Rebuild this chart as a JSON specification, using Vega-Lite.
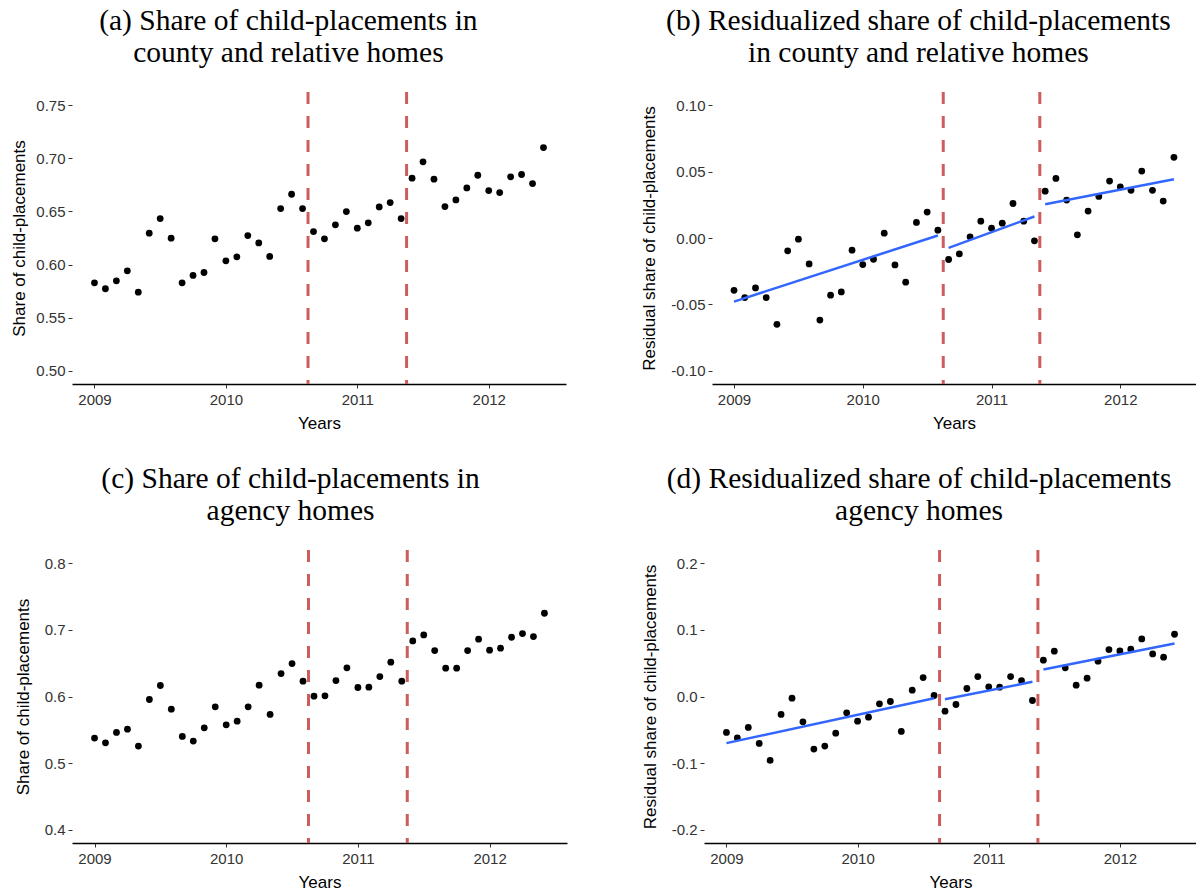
{
  "$schema": "https://vega.github.io/schema/vega-lite/v6.json",
  "padding": {"left": 10, "top": 6, "right": 0, "bottom": 0},
  "background": "white",
  "datasets": {
    "pts": [
      {"t": 2009.0000, "a": 0.5828, "b": -0.0394, "c": 0.5375, "d": -0.054},
      {"t": 2009.0833, "a": 0.5772, "b": -0.0449, "c": 0.5305, "d": -0.062},
      {"t": 2009.1667, "a": 0.5847, "b": -0.0376, "c": 0.546, "d": -0.0465},
      {"t": 2009.2500, "a": 0.5941, "b": -0.0449, "c": 0.551, "d": -0.0705},
      {"t": 2009.3333, "a": 0.574, "b": -0.065, "c": 0.5255, "d": -0.096},
      {"t": 2009.4167, "a": 0.6295, "b": -0.0097, "c": 0.5955, "d": -0.027},
      {"t": 2009.5000, "a": 0.6433, "b": -0.0009, "c": 0.6165, "d": -0.0025},
      {"t": 2009.5833, "a": 0.6248, "b": -0.0195, "c": 0.581, "d": -0.038},
      {"t": 2009.6667, "a": 0.5828, "b": -0.0618, "c": 0.54, "d": -0.079},
      {"t": 2009.7500, "a": 0.5897, "b": -0.0431, "c": 0.533, "d": -0.0745},
      {"t": 2009.8333, "a": 0.5925, "b": -0.0406, "c": 0.553, "d": -0.055},
      {"t": 2009.9167, "a": 0.6242, "b": -0.0092, "c": 0.5845, "d": -0.0245},
      {"t": 2010.0000, "a": 0.6035, "b": -0.020, "c": 0.5575, "d": -0.037},
      {"t": 2010.0833, "a": 0.6073, "b": -0.016, "c": 0.563, "d": -0.031},
      {"t": 2010.1667, "a": 0.6273, "b": 0.0036, "c": 0.5845, "d": -0.011},
      {"t": 2010.2500, "a": 0.6204, "b": -0.0203, "c": 0.617, "d": -0.0075},
      {"t": 2010.3333, "a": 0.6076, "b": -0.0333, "c": 0.573, "d": -0.0525},
      {"t": 2010.4167, "a": 0.6527, "b": 0.0117, "c": 0.6345, "d": 0.0095},
      {"t": 2010.5000, "a": 0.6662, "b": 0.0195, "c": 0.6495, "d": 0.0285},
      {"t": 2010.5833, "a": 0.6527, "b": 0.0059, "c": 0.623, "d": 0.0015},
      {"t": 2010.6667, "a": 0.6311, "b": -0.0162, "c": 0.6005, "d": -0.022},
      {"t": 2010.7500, "a": 0.6242, "b": -0.0119, "c": 0.601, "d": -0.012},
      {"t": 2010.8333, "a": 0.6374, "b": 0.0009, "c": 0.624, "d": 0.012},
      {"t": 2010.9167, "a": 0.6499, "b": 0.0127, "c": 0.643, "d": 0.03},
      {"t": 2011.0000, "a": 0.6342, "b": 0.0074, "c": 0.6135, "d": 0.0145},
      {"t": 2011.0833, "a": 0.6393, "b": 0.0112, "c": 0.614, "d": 0.014},
      {"t": 2011.1667, "a": 0.6543, "b": 0.026, "c": 0.63, "d": 0.03},
      {"t": 2011.2500, "a": 0.6584, "b": 0.0127, "c": 0.6515, "d": 0.024},
      {"t": 2011.3333, "a": 0.6433, "b": -0.0021, "c": 0.623, "d": -0.006},
      {"t": 2011.4167, "a": 0.6813, "b": 0.0353, "c": 0.6835, "d": 0.0545},
      {"t": 2011.5000, "a": 0.6967, "b": 0.0449, "c": 0.6925, "d": 0.068},
      {"t": 2011.5833, "a": 0.6804, "b": 0.0286, "c": 0.669, "d": 0.043},
      {"t": 2011.6667, "a": 0.6546, "b": 0.0024, "c": 0.6425, "d": 0.017},
      {"t": 2011.7500, "a": 0.6609, "b": 0.0203, "c": 0.6425, "d": 0.0275},
      {"t": 2011.8333, "a": 0.6722, "b": 0.0313, "c": 0.669, "d": 0.053},
      {"t": 2011.9167, "a": 0.6841, "b": 0.0429, "c": 0.686, "d": 0.0705},
      {"t": 2012.0000, "a": 0.6697, "b": 0.0386, "c": 0.6695, "d": 0.0685},
      {"t": 2012.0833, "a": 0.6678, "b": 0.0359, "c": 0.6725, "d": 0.071},
      {"t": 2012.1667, "a": 0.6826, "b": 0.0504, "c": 0.689, "d": 0.0865},
      {"t": 2012.2500, "a": 0.6848, "b": 0.0359, "c": 0.6945, "d": 0.064},
      {"t": 2012.3333, "a": 0.6763, "b": 0.0278, "c": 0.690, "d": 0.059},
      {"t": 2012.4167, "a": 0.7102, "b": 0.0608, "c": 0.725, "d": 0.0935}
    ],
    "fits": [
      {"seg": 1, "t": 2009.0000, "b": -0.0479, "d": -0.070},
      {"seg": 1, "t": 2010.5833, "b": 0.0019, "d": -0.0025},
      {"seg": 2, "t": 2010.6667, "b": -0.0074, "d": -0.004},
      {"seg": 2, "t": 2011.3333, "b": 0.0162, "d": 0.022},
      {"seg": 3, "t": 2011.4167, "b": 0.0255, "d": 0.0405},
      {"seg": 3, "t": 2012.4167, "b": 0.0442, "d": 0.0795}
    ],
    "vlines": [
      {"t": 2010.625},
      {"t": 2011.375}
    ]
  },
  "spacing": 33,
  "vconcat": [
    {
      "spacing": 74,
      "hconcat": [
        {
          "width": 494,
          "height": 292,
          "title": {"text": ["(a) Share of child-placements in", "county and relative homes"]},
          "layer": [
            {
              "data": {"name": "vlines"},
              "mark": {"type": "rule", "color": "#CD5C5C", "strokeWidth": 3, "strokeDash": [12, 12]},
              "encoding": {"x": {"field": "t", "type": "quantitative"}}
            },
            {
              "data": {"name": "pts"},
              "mark": {"type": "circle", "size": 46, "color": "black", "opacity": 1},
              "encoding": {
                "x": {"field": "t", "type": "quantitative", "title": "Years", "scale": {"domain": [2008.829, 2012.588], "nice": false, "zero": false}, "axis": {"values": [2009, 2010, 2011, 2012], "format": "d"}},
                "y": {"field": "a", "type": "quantitative", "title": "Share of child-placements", "scale": {"domain": [0.4875, 0.7625], "nice": false, "zero": false}, "axis": {"values": [0.5, 0.55, 0.6, 0.65, 0.7, 0.75], "format": ".2f", "titlePadding": 7}}
              }
            }
          ]
        },
        {
          "width": 484,
          "height": 292,
          "title": {"text": ["(b) Residualized share of child-placements", "in county and relative homes"]},
          "layer": [
            {
              "data": {"name": "vlines"},
              "mark": {"type": "rule", "color": "#CD5C5C", "strokeWidth": 3, "strokeDash": [12, 12]},
              "encoding": {"x": {"field": "t", "type": "quantitative"}}
            },
            {
              "data": {"name": "pts"},
              "mark": {"type": "circle", "size": 46, "color": "black", "opacity": 1},
              "encoding": {
                "x": {"field": "t", "type": "quantitative", "title": "Years", "scale": {"domain": [2008.829, 2012.588], "nice": false, "zero": false}, "axis": {"values": [2009, 2010, 2011, 2012], "format": "d"}},
                "y": {"field": "b", "type": "quantitative", "title": "Residual share of child-placements", "scale": {"domain": [-0.11, 0.11], "nice": false, "zero": false}, "axis": {"values": [-0.1, -0.05, 0, 0.05, 0.1], "labelExpr": "replace(format(datum.value, '.2f'), '−', '-')"}}
              }
            },
            {
              "data": {"name": "fits"},
              "mark": {"type": "line", "color": "#3366FF", "strokeWidth": 2.5},
              "encoding": {
                "x": {"field": "t", "type": "quantitative"},
                "y": {"field": "b", "type": "quantitative"},
                "detail": {"field": "seg", "type": "nominal"}
              }
            }
          ]
        }
      ]
    },
    {
      "spacing": 74,
      "hconcat": [
        {
          "width": 495,
          "height": 293,
          "title": {"text": ["(c) Share of child-placements in", "agency homes"]},
          "layer": [
            {
              "data": {"name": "vlines"},
              "mark": {"type": "rule", "color": "#CD5C5C", "strokeWidth": 3, "strokeDash": [12, 12]},
              "encoding": {"x": {"field": "t", "type": "quantitative"}}
            },
            {
              "data": {"name": "pts"},
              "mark": {"type": "circle", "size": 46, "color": "black", "opacity": 1},
              "encoding": {
                "x": {"field": "t", "type": "quantitative", "title": "Years", "scale": {"domain": [2008.829, 2012.588], "nice": false, "zero": false}, "axis": {"values": [2009, 2010, 2011, 2012], "format": "d"}},
                "y": {"field": "c", "type": "quantitative", "title": "Share of child-placements", "scale": {"domain": [0.38, 0.82], "nice": false, "zero": false}, "axis": {"values": [0.4, 0.5, 0.6, 0.7, 0.8], "format": ".1f"}}
              }
            }
          ]
        },
        {
          "width": 493,
          "height": 293,
          "title": {"text": ["(d) Residualized share of child-placements", "agency homes"]},
          "layer": [
            {
              "data": {"name": "vlines"},
              "mark": {"type": "rule", "color": "#CD5C5C", "strokeWidth": 3, "strokeDash": [12, 12]},
              "encoding": {"x": {"field": "t", "type": "quantitative"}}
            },
            {
              "data": {"name": "pts"},
              "mark": {"type": "circle", "size": 46, "color": "black", "opacity": 1},
              "encoding": {
                "x": {"field": "t", "type": "quantitative", "title": "Years", "scale": {"domain": [2008.829, 2012.588], "nice": false, "zero": false}, "axis": {"values": [2009, 2010, 2011, 2012], "format": "d"}},
                "y": {"field": "d", "type": "quantitative", "title": "Residual share of child-placements", "scale": {"domain": [-0.22, 0.22], "nice": false, "zero": false}, "axis": {"values": [-0.2, -0.1, 0, 0.1, 0.2], "labelExpr": "replace(format(datum.value, '.1f'), '−', '-')"}}
              }
            },
            {
              "data": {"name": "fits"},
              "mark": {"type": "line", "color": "#3366FF", "strokeWidth": 2.5},
              "encoding": {
                "x": {"field": "t", "type": "quantitative"},
                "y": {"field": "d", "type": "quantitative"},
                "detail": {"field": "seg", "type": "nominal"}
              }
            }
          ]
        }
      ]
    }
  ],
  "config": {
    "view": {"stroke": null},
    "axis": {
      "grid": false,
      "labelFont": "Liberation Sans",
      "labelFontSize": 15,
      "labelColor": "#333333",
      "titleFont": "Liberation Sans",
      "titleFontSize": 17,
      "titleFontWeight": "normal",
      "titleColor": "black",
      "tickColor": "#333333",
      "tickSize": 4,
      "labelPadding": 3
    },
    "axisX": {"domainColor": "black", "domainWidth": 1.3, "titlePadding": 8, "labelPadding": 4},
    "axisY": {"domain": false, "titlePadding": 12},
    "title": {
      "font": "Liberation Serif",
      "fontSize": 29.5,
      "fontWeight": "normal",
      "anchor": "middle",
      "frame": "bounds",
      "lineHeight": 32,
      "offset": 22,
      "color": "black"
    }
  }
}
